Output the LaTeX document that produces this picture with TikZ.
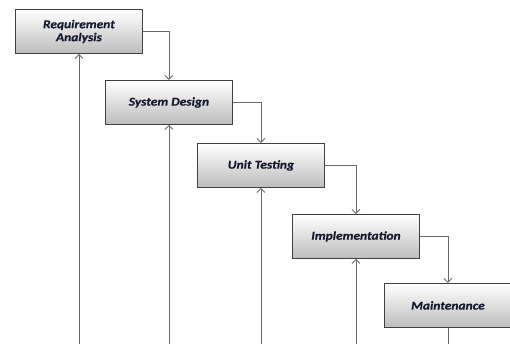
\documentclass[tikz,border=0pt]{standalone}
\usepackage{fontspec}
\newfontfamily\boxfont[FakeStretch=1.12, BoldItalicFeatures={FakeBold=0.6}]{Carlito}
\usetikzlibrary{arrows.meta,shadows}
\definecolor{linegray}{HTML}{6A6A6A}
\definecolor{boxedge}{HTML}{404040}
\definecolor{txt}{HTML}{151A2E}
\tikzset{
  stagebox/.style={draw=boxedge, line width=0.9pt, top color=white, bottom color=black!26,
    minimum width=127pt, minimum height=44pt, anchor=north west, inner sep=2pt,
    align=center, font=\boxfont\fontsize{12}{13}\selectfont\bfseries\itshape, text=txt,
    drop shadow={shadow xshift=1pt, shadow yshift=-1pt, opacity=0.35}},
  conn/.style={draw=linegray, line width=0.9pt, -{Straight Barb[length=4pt,width=8pt]}},
  plain/.style={draw=linegray, line width=0.9pt}
}
\begin{document}
\begin{tikzpicture}[x=1pt,y=-1pt]
\useasboundingbox (0,0) rectangle (510,344);
\node[stagebox] (ra) at (15,9) {Requirement\\Analysis};
\node[stagebox] (sd) at (105,80) {System Design};
\node[stagebox] (ut) at (197,143) {Unit Testing};
\node[stagebox] (im) at (292,214) {Implementation};
\node[stagebox] (mt) at (384,283) {Maintenance};
\coordinate (b1) at (ra.south |- 0,344);
\coordinate (b2) at (sd.south |- 0,344);
\coordinate (b3) at (ut.south |- 0,344);
\coordinate (b4) at (im.south |- 0,344);
\coordinate (b5) at (mt.south |- 0,344);
\draw[conn] (ra.east) -| (sd.north);
\draw[conn] (sd.east) -| (ut.north);
\draw[conn] (ut.east) -| (im.north);
\draw[conn] (im.east) -| (mt.north);
\draw[conn] (b1) -- (ra.south);
\draw[conn] (b2) -- (sd.south);
\draw[conn] (b3) -- (ut.south);
\draw[conn] (b4) -- (im.south);
\draw[plain] (mt.south) -- (b5);
\end{tikzpicture}
\end{document}
